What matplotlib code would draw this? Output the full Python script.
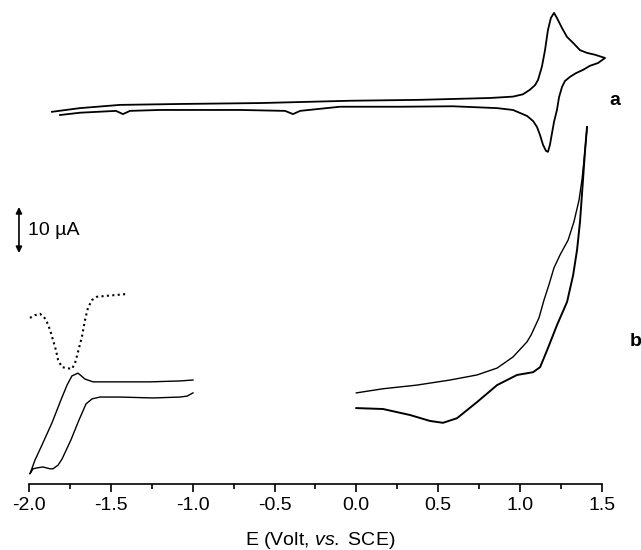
import matplotlib
matplotlib.use("Agg")
import matplotlib.pyplot as plt
from matplotlib.ticker import MultipleLocator

plt.rcParams['font.family'] = ['Liberation Sans', 'DejaVu Sans']
plt.rcParams['mathtext.fontset'] = 'custom'
plt.rcParams['mathtext.rm'] = 'Liberation Sans'
plt.rcParams['mathtext.it'] = 'Liberation Sans:italic'

# ---- curve a (E in V, I in uA, arbitrary offset) ----
a_E = [-1.861, -1.690, -1.445, -1.078, -0.589, -0.040, 0.389, 0.817, 0.958, 1.019,
       1.062, 1.093, 1.111, 1.135, 1.154, 1.172, 1.190, 1.209, 1.227, 1.258,
       1.288, 1.325, 1.368, 1.411, 1.460, 1.521,
       1.478, 1.429, 1.386, 1.343, 1.307, 1.276, 1.258, 1.240, 1.227, 1.209,
       1.197, 1.184, 1.172, 1.160, 1.142, 1.123, 1.105, 1.081, 1.044, 0.958,
       0.861, 0.591, 0.267, -0.100, -0.344, -0.387, -0.436, -0.711,
       -1.201, -1.384, -1.427, -1.470, -1.690, -1.812]
a_I = [80.9, 81.7, 82.4, 82.6, 82.8, 83.3, 83.5, 83.9, 84.2, 84.7,
       85.7, 86.7, 87.8, 90.7, 94.3, 98.7, 101.3, 102.4, 101.3, 99.1,
       97.2, 95.9, 94.3, 93.7, 93.3, 92.6,
       91.5, 90.9, 90.0, 89.3, 88.5, 87.6, 86.3, 84.1, 81.3, 78.7,
       76.3, 73.7, 72.2, 72.4, 73.7, 75.9, 77.6, 78.9, 80.0, 81.3,
       81.7, 82.1, 82.0, 82.0, 81.1, 80.4, 81.1, 81.3,
       81.3, 81.1, 80.4, 81.1, 80.7, 80.2]

# ---- curve b, negative region (solid) ----
bl_E = [-0.999, -1.078, -1.261, -1.445, -1.610, -1.659, -1.702, -1.739, -1.769,
        -1.806, -1.861, -1.922, -1.965, -1.996,
        -1.977, -1.953, -1.916, -1.873, -1.855, -1.824, -1.800, -1.745, -1.696,
        -1.653, -1.616, -1.568, -1.445, -1.243, -1.078, -1.035, -0.999]
bl_I = [22.6, 22.4, 22.2, 22.2, 22.2, 22.8, 24.1, 23.5, 21.5,
        18.3, 13.3, 8.5, 5.2, 2.2,
        3.3, 3.5, 3.7, 3.3, 3.3, 4.1, 5.4, 9.6, 13.9,
        17.4, 18.5, 18.9, 18.9, 18.7, 18.9, 19.1, 19.8]

# ---- curve b, negative region (dotted) ----
bd_E = [-1.996, -1.965, -1.935, -1.910, -1.892, -1.873, -1.855, -1.837, -1.824,
        -1.800, -1.769, -1.739, -1.720, -1.702, -1.678, -1.659, -1.641, -1.616,
        -1.586, -1.525, -1.464, -1.402]
bd_I = [36.1, 36.7, 37.0, 36.3, 35.2, 33.5, 31.3, 29.1, 27.0,
        25.4, 25.2, 25.0, 26.3, 28.7, 32.0, 35.7, 38.3, 40.0,
        40.7, 40.9, 41.1, 41.3]

# ---- curve b, positive region: forward and return sweeps ----
bf_E = [0.0, 0.163, 0.328, 0.451, 0.530, 0.616, 0.738, 0.861, 0.983, 1.081,
        1.124, 1.167, 1.228, 1.289, 1.326, 1.350, 1.368, 1.387, 1.399, 1.411]
bf_I = [16.5, 16.3, 15.0, 13.7, 13.3, 14.3, 17.8, 21.5, 23.7, 24.3,
        25.4, 29.1, 34.6, 39.6, 45.4, 50.9, 57.0, 66.5, 72.6, 77.6]
br_E = [1.411, 1.399, 1.380, 1.362, 1.331, 1.295, 1.246, 1.209, 1.178, 1.148,
        1.117, 1.069, 1.044, 0.958, 0.861, 0.738, 0.573, 0.371, 0.163, 0.0]
br_I = [77.6, 72.6, 66.1, 61.7, 57.0, 53.0, 49.8, 47.0, 43.3, 40.0,
        36.1, 32.4, 30.9, 27.6, 25.2, 23.7, 22.6, 21.5, 20.7, 19.8]

xticks = [-2.0, -1.5, -1.0, -0.5, 0.0, 0.5, 1.0, 1.5]
xticklabels = ['-2.0', '-1.5', '-1.0', '-0.5', '0.0', '0.5', '1.0', '1.5']

fig = plt.figure(figsize=(6.41, 5.5), dpi=100)
ax = fig.add_axes([0, 0.12, 1, 0.88])

ax.plot(a_E, a_I, color='black', lw=1.3, solid_joinstyle='round')
ax.plot(bl_E, bl_I, color='black', lw=1.0, solid_joinstyle='round')
ax.plot(bd_E, bd_I, color='black', lw=1.5, linestyle=(0, (1, 1.6)))
ax.plot(bf_E, bf_I, color='black', lw=1.4, solid_joinstyle='round')
ax.plot(br_E, br_I, color='black', lw=1.0, solid_joinstyle='round')

ax.set_xlim(-2.179, 1.741)
ax.set_ylim(0, 105.2)
for s in ['left', 'right', 'top']:
    ax.spines[s].set_visible(False)
ax.spines['bottom'].set_bounds(-2.0, 1.5)
ax.spines['bottom'].set_linewidth(1.2)
ax.set_yticks([])
ax.set_xticks(xticks)
ax.set_xticklabels(xticklabels)
ax.xaxis.set_minor_locator(MultipleLocator(0.25))
ax.tick_params(axis='x', which='major', direction='out', length=6, width=1.2,
               labelsize=14, pad=3)
ax.tick_params(axis='x', which='minor', direction='out', length=3.5, width=1.2)
ax.set_xlabel(r'E (Volt, $\mathit{vs.}$ SCE)', fontsize=14, labelpad=12)

# scale bar
ax.annotate('', xy=(-2.063, 50.2), xytext=(-2.063, 60.2),
            arrowprops=dict(arrowstyle='<|-|>', lw=1.2, color='black',
                            mutation_scale=9, shrinkA=0, shrinkB=0))
ax.text(-2.005, 55.0, '10 \u00b5A', fontsize=14, ha='left', va='center')

ax.text(1.578, 83.3, 'a', fontsize=14, fontweight='bold', ha='center', va='center')
ax.text(1.706, 30.9, 'b', fontsize=14, fontweight='bold', ha='center', va='center')

fig.savefig('out.png', dpi=100)
